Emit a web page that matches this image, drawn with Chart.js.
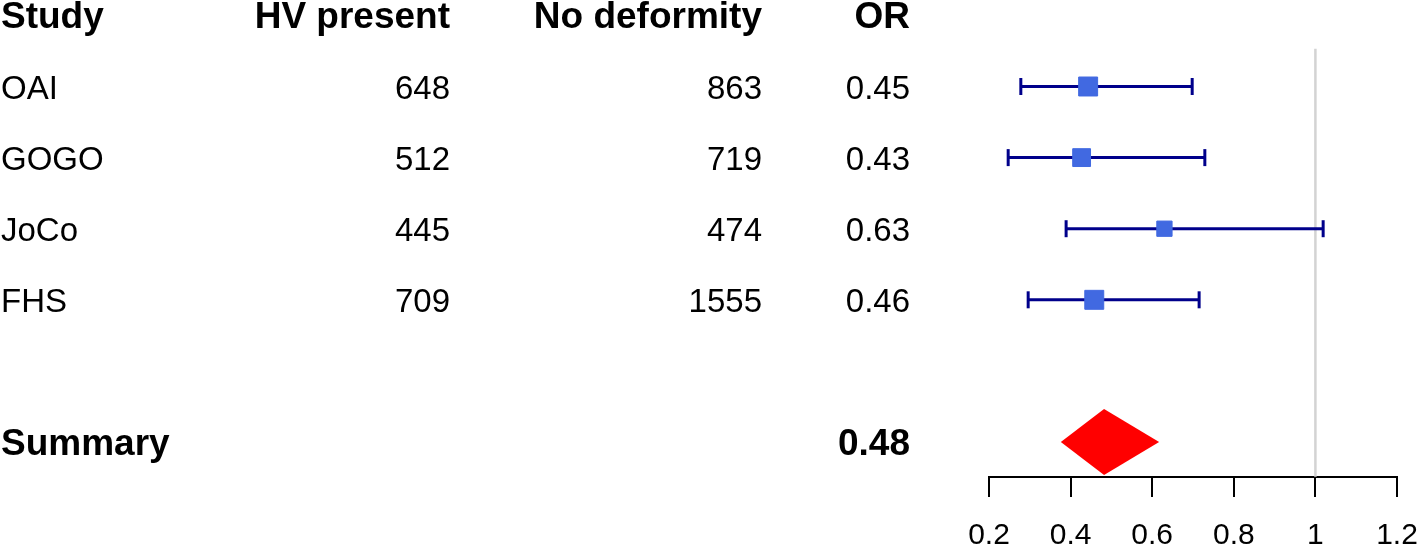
<!DOCTYPE html>
<html>
<head>
<meta charset="utf-8">
<script src="https://cdn.jsdelivr.net/npm/chart.js@4"></script>
<style>
  html, body { margin: 0; padding: 0; background: #fff; }
</style>
</head>
<body>
<canvas id="forest" width="1418" height="546"></canvas>
<script>
// table columns
const headers = ["Study", "HV present", "No deformity", "OR"];
const studies = ["OAI", "GOGO", "JoCo", "FHS"];
const hvPresent = [648, 512, 445, 709];
const noDeformity = [863, 719, 474, 1555];
const orText = ["0.45", "0.43", "0.63", "0.46"];

// odds ratios and confidence intervals
const estimate = [0.443, 0.427, 0.63, 0.458];
const ciLow = [0.278, 0.247, 0.389, 0.296];
const ciHigh = [0.698, 0.729, 1.019, 0.715];

// summary row
const summaryLabel = "Summary";
const summaryText = "0.48";
const summaryEst = [0.482];
const summaryLow = [0.376];
const summaryHigh = [0.617];

const xTicks = [0.2, 0.4, 0.6, 0.8, 1, 1.2];
const refValue = 1;

// styling
const FONT = '"Liberation Sans", Arial, sans-serif';
const colX = [1, 450, 762, 910];
const boxRadius = [13.4, 12.6, 10.8, 13.4];
const summaryRow = 6;

// datasets
const boxes = {
  type: 'scatter',
  order: 0,
  data: studies.map((s, i) => ({x: estimate[i], y: i + 1})),
  pointStyle: 'rect',
  pointRadius: boxRadius,
  pointHoverRadius: boxRadius,
  backgroundColor: '#4169E1',
  borderColor: '#4169E1',
  borderWidth: 1
};

const ciLines = studies.map((s, i) => ({
  type: 'line',
  order: 1,
  data: [{x: ciLow[i], y: i + 1}, {x: ciHigh[i], y: i + 1}],
  borderColor: '#00008B',
  borderWidth: 3,
  pointStyle: 'line',
  rotation: 90,
  pointRadius: 8.5,
  pointHoverRadius: 8.5,
  pointBorderColor: '#00008B',
  pointBorderWidth: 3
}));

const refLine = {
  type: 'line',
  order: 2,
  data: [{x: refValue, y: 0.47}, {x: refValue, y: 6.49}],
  borderColor: '#d3d3d3',
  borderWidth: 2.5,
  pointRadius: 0
};

// draws the table text and the summary diamond
const tablePlugin = {
  id: 'table',
  afterDatasetsDraw(chart) {
    const {ctx, scales: {x, y}} = chart;
    const base = v => y.getPixelForValue(v) + 12.5;
    ctx.save();
    ctx.fillStyle = '#000';
    ctx.textBaseline = 'alphabetic';

    ctx.font = 'bold 37px ' + FONT;
    headers.forEach((h, k) => {
      ctx.textAlign = k == 0 ? 'left' : 'right';
      ctx.fillText(h, colX[k], base(0));
    });

    ctx.font = '33px ' + FONT;
    studies.forEach((s, i) => {
      const row = [s, String(hvPresent[i]), String(noDeformity[i]), orText[i]];
      row.forEach((t, k) => {
        ctx.textAlign = k == 0 ? 'left' : 'right';
        ctx.fillText(t, colX[k], base(i + 1));
      });
    });

    ctx.font = 'bold 37px ' + FONT;
    ctx.textAlign = 'left';
    ctx.fillText(summaryLabel, colX[0], base(summaryRow));
    ctx.textAlign = 'right';
    ctx.fillText(summaryText, colX[3], base(summaryRow));

    // diamond
    const cy = y.getPixelForValue(summaryRow);
    const cx = x.getPixelForValue(summaryEst[0]);
    ctx.beginPath();
    ctx.moveTo(x.getPixelForValue(summaryLow[0]), cy);
    ctx.lineTo(cx, cy - 33);
    ctx.lineTo(x.getPixelForValue(summaryHigh[0]), cy);
    ctx.lineTo(cx, cy + 33);
    ctx.closePath();
    ctx.fillStyle = '#ff0000';
    ctx.fill();
    ctx.restore();
  }
};

new Chart(document.getElementById('forest'), {
  data: {datasets: [boxes, ...ciLines, refLine]},
  options: {
    responsive: false,
    animation: false,
    events: [],
    layout: {autoPadding: false, padding: {left: 989, right: 21, top: 0, bottom: 0}},
    plugins: {legend: {display: false}, tooltip: {enabled: false}},
    scales: {
      x: {
        type: 'linear',
        position: 'bottom',
        min: 0.2,
        max: 1.2,
        afterBuildTicks: scale => { scale.ticks = xTicks.map(v => ({value: v})); },
        afterFit: scale => {
          scale.height = 69;
          scale.paddingLeft = 0;
          scale.paddingRight = 0;
        },
        ticks: {
          color: '#000',
          font: {family: FONT, size: 30},
          padding: 21,
          maxRotation: 0,
          callback: v => String(v)
        },
        grid: {
          drawOnChartArea: false,
          drawTicks: true,
          tickLength: 20,
          color: '#000',
          lineWidth: 2
        },
        border: {display: true, color: '#000', width: 2}
      },
      y: {
        type: 'linear',
        display: false,
        reverse: true,
        min: -0.2166,
        max: 6.492
      }
    }
  },
  plugins: [tablePlugin]
});
</script>
</body>
</html>
